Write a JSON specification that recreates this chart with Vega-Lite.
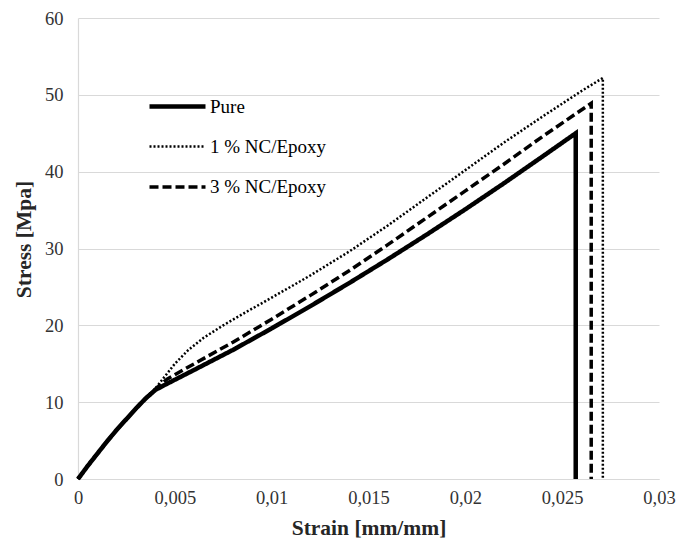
{
  "$schema": "https://vega.github.io/schema/vega-lite/v6.json",
  "width": 581,
  "height": 461,
  "autosize": {"type": "none"},
  "padding": {"left": 78, "top": 18, "right": 29, "bottom": 66},
  "background": "white",
  "config": {"view": {"stroke": null}, "font": "Liberation Serif"},
  "data": {"values": [
    {"s": "Pure", "x": 0, "y": 0},
    {"s": "Pure", "x": 0.0005, "y": 1.7},
    {"s": "Pure", "x": 0.001, "y": 3.3},
    {"s": "Pure", "x": 0.0015, "y": 4.9},
    {"s": "Pure", "x": 0.002, "y": 6.4},
    {"s": "Pure", "x": 0.0025, "y": 7.8},
    {"s": "Pure", "x": 0.003, "y": 9.2},
    {"s": "Pure", "x": 0.0035, "y": 10.5},
    {"s": "Pure", "x": 0.004, "y": 11.6},
    {"s": "Pure", "x": 0.0046, "y": 12.4},
    {"s": "Pure", "x": 0.006, "y": 14.2},
    {"s": "Pure", "x": 0.008, "y": 16.8},
    {"s": "Pure", "x": 0.010, "y": 19.6},
    {"s": "Pure", "x": 0.012, "y": 22.5},
    {"s": "Pure", "x": 0.014, "y": 25.5},
    {"s": "Pure", "x": 0.016, "y": 28.6},
    {"s": "Pure", "x": 0.018, "y": 31.8},
    {"s": "Pure", "x": 0.020, "y": 35.1},
    {"s": "Pure", "x": 0.022, "y": 38.5},
    {"s": "Pure", "x": 0.024, "y": 42.0},
    {"s": "Pure", "x": 0.0257, "y": 45.0},
    {"s": "Pure", "x": 0.0257, "y": 0},
    {"s": "1 % NC/Epoxy", "x": 0, "y": 0},
    {"s": "1 % NC/Epoxy", "x": 0.0005, "y": 1.7},
    {"s": "1 % NC/Epoxy", "x": 0.001, "y": 3.3},
    {"s": "1 % NC/Epoxy", "x": 0.0015, "y": 4.9},
    {"s": "1 % NC/Epoxy", "x": 0.002, "y": 6.4},
    {"s": "1 % NC/Epoxy", "x": 0.0025, "y": 7.8},
    {"s": "1 % NC/Epoxy", "x": 0.003, "y": 9.2},
    {"s": "1 % NC/Epoxy", "x": 0.0035, "y": 10.5},
    {"s": "1 % NC/Epoxy", "x": 0.004, "y": 11.8},
    {"s": "1 % NC/Epoxy", "x": 0.0045, "y": 13.4},
    {"s": "1 % NC/Epoxy", "x": 0.005, "y": 15.0},
    {"s": "1 % NC/Epoxy", "x": 0.0057, "y": 16.8},
    {"s": "1 % NC/Epoxy", "x": 0.0065, "y": 18.4},
    {"s": "1 % NC/Epoxy", "x": 0.0075, "y": 20.0},
    {"s": "1 % NC/Epoxy", "x": 0.0088, "y": 21.9},
    {"s": "1 % NC/Epoxy", "x": 0.010, "y": 23.6},
    {"s": "1 % NC/Epoxy", "x": 0.012, "y": 26.5},
    {"s": "1 % NC/Epoxy", "x": 0.014, "y": 29.6},
    {"s": "1 % NC/Epoxy", "x": 0.016, "y": 33.0},
    {"s": "1 % NC/Epoxy", "x": 0.018, "y": 36.6},
    {"s": "1 % NC/Epoxy", "x": 0.020, "y": 40.2},
    {"s": "1 % NC/Epoxy", "x": 0.022, "y": 43.8},
    {"s": "1 % NC/Epoxy", "x": 0.024, "y": 47.2},
    {"s": "1 % NC/Epoxy", "x": 0.026, "y": 50.5},
    {"s": "1 % NC/Epoxy", "x": 0.0271, "y": 52.2},
    {"s": "1 % NC/Epoxy", "x": 0.0271, "y": 0},
    {"s": "3 % NC/Epoxy", "x": 0, "y": 0},
    {"s": "3 % NC/Epoxy", "x": 0.0005, "y": 1.7},
    {"s": "3 % NC/Epoxy", "x": 0.001, "y": 3.3},
    {"s": "3 % NC/Epoxy", "x": 0.0015, "y": 4.9},
    {"s": "3 % NC/Epoxy", "x": 0.002, "y": 6.4},
    {"s": "3 % NC/Epoxy", "x": 0.0025, "y": 7.8},
    {"s": "3 % NC/Epoxy", "x": 0.003, "y": 9.2},
    {"s": "3 % NC/Epoxy", "x": 0.0035, "y": 10.5},
    {"s": "3 % NC/Epoxy", "x": 0.004, "y": 11.7},
    {"s": "3 % NC/Epoxy", "x": 0.0046, "y": 13.0},
    {"s": "3 % NC/Epoxy", "x": 0.006, "y": 15.0},
    {"s": "3 % NC/Epoxy", "x": 0.008, "y": 17.8},
    {"s": "3 % NC/Epoxy", "x": 0.010, "y": 20.8},
    {"s": "3 % NC/Epoxy", "x": 0.012, "y": 23.9},
    {"s": "3 % NC/Epoxy", "x": 0.014, "y": 27.1},
    {"s": "3 % NC/Epoxy", "x": 0.016, "y": 30.5},
    {"s": "3 % NC/Epoxy", "x": 0.018, "y": 34.0},
    {"s": "3 % NC/Epoxy", "x": 0.020, "y": 37.5},
    {"s": "3 % NC/Epoxy", "x": 0.022, "y": 41.0},
    {"s": "3 % NC/Epoxy", "x": 0.024, "y": 44.6},
    {"s": "3 % NC/Epoxy", "x": 0.0265, "y": 48.9},
    {"s": "3 % NC/Epoxy", "x": 0.0265, "y": 0}
  ]},
  "mark": {"type": "line", "color": "black", "strokeCap": "butt", "strokeJoin": "miter"},
  "encoding": {
    "x": {
      "field": "x", "type": "quantitative",
      "scale": {"domain": [0, 0.03], "nice": false},
      "axis": {
        "values": [0, 0.005, 0.01, 0.015, 0.02, 0.025, 0.03],
        "labelExpr": "replace(format(datum.value, ''), '.', ',')",
        "grid": false, "ticks": false,
        "domainColor": "#d9d9d9", "domainWidth": 1.2,
        "labelFont": "Liberation Serif", "labelFontSize": 18.5, "labelColor": "#333333",
        "labelPadding": 9, "labelFlush": false,
        "title": "Strain [mm/mm]", "titleFont": "Liberation Serif", "titleFontSize": 21.5,
        "titleFontWeight": "bold", "titleColor": "#262626", "titlePadding": 11
      }
    },
    "y": {
      "field": "y", "type": "quantitative",
      "scale": {"domain": [0, 60], "nice": false},
      "axis": {
        "values": [0, 10, 20, 30, 40, 50, 60],
        "grid": true, "gridColor": "#d9d9d9", "gridWidth": 1.2,
        "ticks": false, "domainColor": "#d9d9d9", "domainWidth": 1.2,
        "labelFont": "Liberation Serif", "labelFontSize": 18.5, "labelColor": "#333333",
        "labelPadding": 15,
        "title": "Stress [Mpa]", "titleFont": "Liberation Serif", "titleFontSize": 21.5,
        "titleFontWeight": "bold", "titleColor": "#262626", "titlePadding": 9, "titleY": 221
      }
    },
    "strokeDash": {
      "field": "s", "type": "nominal",
      "scale": {"domain": ["Pure", "1 % NC/Epoxy", "3 % NC/Epoxy"], "range": [[1, 0], [2, 2], [9, 4]]},
      "legend": {
        "orient": "none", "legendX": 69, "legendY": 58, "title": null,
        "symbolType": "stroke", "symbolSize": 3136, "symbolStrokeColor": "black",
        "labelFont": "Liberation Serif", "labelFontSize": 19, "labelColor": "black",
        "labelOffset": 2, "rowPadding": 0
      }
    },
    "strokeWidth": {
      "field": "s", "type": "nominal",
      "scale": {"type": "ordinal", "domain": ["Pure", "1 % NC/Epoxy", "3 % NC/Epoxy"], "range": [4.5, 2.5, 3.5]},
      "legend": {
        "orient": "none", "legendX": 69, "legendY": 58, "title": null,
        "symbolType": "stroke", "symbolSize": 3136, "symbolStrokeColor": "black",
        "labelFont": "Liberation Serif", "labelFontSize": 19, "labelColor": "black",
        "labelOffset": 2, "rowPadding": 0
      }
    },
    "order": {"value": null}
  }
}
